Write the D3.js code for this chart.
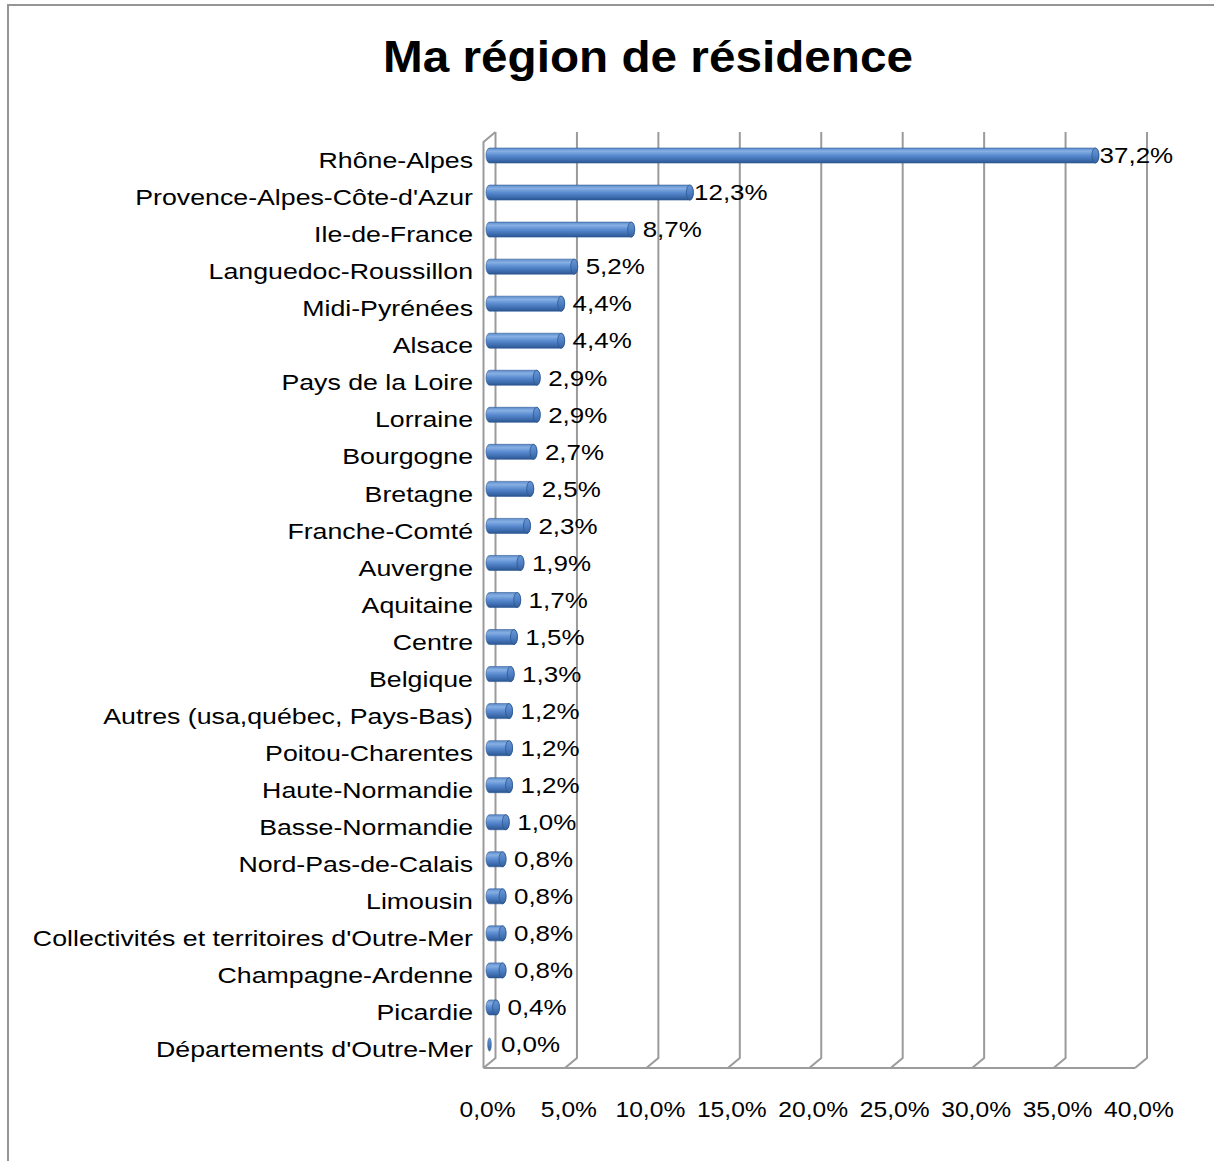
<!DOCTYPE html>
<html><head><meta charset="utf-8">
<script src="https://cdn.jsdelivr.net/npm/d3@7"></script>
<style>html,body{margin:0;padding:0;background:#fff;}svg{display:block;}</style>
</head><body>
<script>
const title = "Ma région de résidence";
const categories = ["Rhône-Alpes","Provence-Alpes-Côte-d'Azur","Ile-de-France","Languedoc-Roussillon","Midi-Pyrénées","Alsace","Pays de la Loire","Lorraine","Bourgogne","Bretagne","Franche-Comté","Auvergne","Aquitaine","Centre","Belgique","Autres (usa,québec, Pays-Bas)","Poitou-Charentes","Haute-Normandie","Basse-Normandie","Nord-Pas-de-Calais","Limousin","Collectivités et territoires d'Outre-Mer","Champagne-Ardenne","Picardie","Départements d'Outre-Mer"];
const values = [37.2,12.3,8.7,5.2,4.4,4.4,2.9,2.9,2.7,2.5,2.3,1.9,1.7,1.5,1.3,1.2,1.2,1.2,1.0,0.8,0.8,0.8,0.8,0.4,0.0];
const ticks = [0,5,10,15,20,25,30,35,40];

const W = 1214, H = 1161;
const svg = d3.select("body").append("svg").attr("width", W).attr("height", H);
const FONT = "'Liberation Sans', Arial, sans-serif";
const fmt = v => d3.format(".1f")(v).replace(".", ",") + "%";

// depth offsets of the 3D box
const DX = 12, DY = -10;
const x = d3.scaleLinear().domain([0, 40]).range([483.5, 1135]);
const y = d3.scaleBand().domain(categories).range([142, 1068]);

// outer border
svg.append("rect").attr("x", 8).attr("y", 5).attr("width", 1400).attr("height", 1400)
  .attr("fill", "none").attr("stroke", "#959595").attr("stroke-width", 2);

function label(g, tx, ty, sx, txt, size, anchor, weight, baseline) {
  const gg = g.append("g").attr("transform", `translate(${tx},${ty}) scale(${sx},1)`);
  gg.append("text").attr("x", 0).attr("y", 0)
    .attr("font-family", FONT).attr("font-size", size)
    .attr("font-weight", weight || "normal")
    .attr("text-anchor", anchor).attr("fill", "#000")
    .attr("dominant-baseline", baseline || "auto")
    .text(txt);
}

// title
label(svg, 648, 72, 1.084, title, 44, "middle", "bold");

// grid / walls
const grid = svg.append("g").attr("fill", "none").attr("stroke", "#9b9b9b").attr("stroke-width", 2);
const y0 = y.range()[0], y1 = y.range()[1];
grid.selectAll("path.g").data(ticks).join("path").attr("class", "g")
  .attr("d", v => `M${x(v) + DX},${y0 + DY} V${y1 + DY} L${x(v)},${y1}`);
grid.append("path").attr("d", `M${x(0) + DX},${y0 + DY} L${x(0)},${y0} V${y1}`);
grid.append("path").attr("d", `M${x(0)},${y1} H${x(40)}`);

// gradient for cylinders
const defs = svg.append("defs");
const grad = defs.append("linearGradient").attr("id", "cyl").attr("x1", 0).attr("y1", 0).attr("x2", 0).attr("y2", 1);
[[0, "#5f8dcc"], [0.22, "#86afe3"], [0.5, "#5a8bd0"], [0.8, "#3d6cae"], [1, "#2b5590"]]
  .forEach(([o, c]) => grad.append("stop").attr("offset", o).attr("stop-color", c));
const capGrad = defs.append("linearGradient").attr("id", "cap").attr("x1", 0).attr("y1", 0).attr("x2", 0).attr("y2", 1);
[[0, "#6a98d6"], [0.5, "#4f80c4"], [1, "#335f9c"]]
  .forEach(([o, c]) => capGrad.append("stop").attr("offset", o).attr("stop-color", c));

const BH = 15, RX = 3.5;
const mid = c => y(c) + y.bandwidth() / 2;
const bars = svg.append("g");
const texts = svg.append("g");
categories.forEach((c, i) => {
  const v = values[i];
  const cy = mid(c) + DY / 2;
  const xa = x(0) + DX / 2, xb = x(v) + DX / 2;
  const g = bars.append("g");
  if (xb - xa > 0.5) {
    g.append("path")
      .attr("d", `M${xa},${cy - BH / 2} H${xb} A${RX},${BH / 2} 0 0 1 ${xb},${cy + BH / 2} H${xa} A${RX},${BH / 2} 0 0 1 ${xa},${cy - BH / 2} Z`)
      .attr("fill", "url(#cyl)").attr("stroke", "#2f5b95").attr("stroke-width", 0.6);
    g.append("ellipse").attr("cx", xb).attr("cy", cy).attr("rx", RX).attr("ry", BH / 2)
      .attr("fill", "url(#cap)").attr("stroke", "#2c5790").attr("stroke-width", 0.8);
  } else {
    g.append("ellipse").attr("cx", xa).attr("cy", cy).attr("rx", 1.8).attr("ry", BH / 2 - 1)
      .attr("fill", "url(#cap)").attr("stroke", "#2c5790").attr("stroke-width", 0.6);
  }
  label(texts, xb + 41, cy, 1.18, fmt(v), 22, "middle", "normal", "central");
  label(texts, 473, mid(c), 1.215, c, 22, "end", "normal", "central");
});

// x tick labels
ticks.forEach(v => label(texts, x(v) + 4, 1117, 1.12, fmt(v), 22, "middle"));
</script>
</body></html>
